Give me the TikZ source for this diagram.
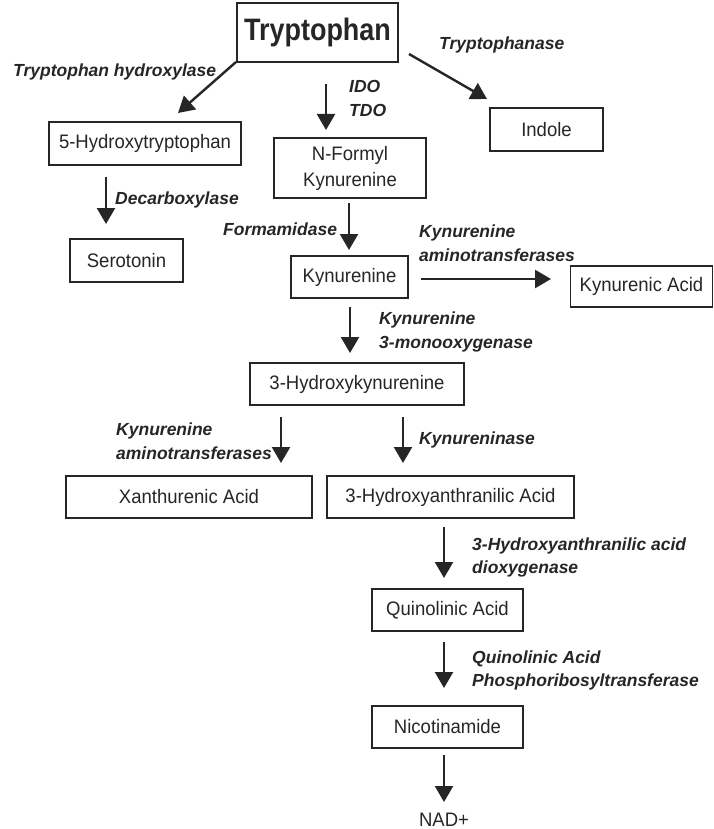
\documentclass[tikz,border=0pt]{standalone}
\usepackage{fontspec}
\setmainfont{Liberation Sans}
\newfontfamily\trpfont[FakeStretch=0.87]{Liberation Sans}
\newfontfamily\boxfont[FakeStretch=0.95]{Liberation Sans}
\usetikzlibrary{arrows.meta}
\begin{document}
\begin{tikzpicture}[x=1pt,y=-1pt,
  box/.style={draw=black!85, line width=1.4pt, fill=white, inner sep=0pt,
    font=\boxfont\fontsize{19.5}{26}\selectfont, text=black!85, align=center},
  enz/.style={font=\fontsize{17.5}{23.5}\selectfont\bfseries\itshape, text=black!85,
    align=left, anchor=west, inner sep=0pt},
  arr/.style={line width=2.4pt, draw=black!85, -{Triangle[length=16pt,width=18pt]}}]
\useasboundingbox[fill=white] (0,0) rectangle (714,829);

% boxes
\node[box, minimum width=161pt, minimum height=59pt, font=\trpfont\fontsize{31}{34}\selectfont\bfseries] (trp) at (317.5,32.5) {Tryptophan};
\node[box, minimum width=192pt, minimum height=43pt] (htp) at (145,143.5) {5-Hydroxytryptophan};
\node[box, minimum width=152pt, minimum height=60pt] (nfk) at (350,168) {N-Formyl\\Kynurenine};
\node[box, minimum width=113pt, minimum height=43pt] (ind) at (546.5,129.5) {Indole};
\node[box, minimum width=113pt, minimum height=43pt] (ser) at (126.5,260.5) {Serotonin};
\node[box, minimum width=117pt, minimum height=42pt] (kyn) at (349.5,277) {Kynurenine};
\node[box, minimum width=142pt, minimum height=41pt] (kya) at (641.5,286.5) {Kynurenic Acid};
\node[box, minimum width=214pt, minimum height=42pt] (hk) at (357,384) {3-Hydroxykynurenine};
\node[box, minimum width=246pt, minimum height=42pt] (xa) at (189,497) {Xanthurenic Acid};
\node[box, minimum width=247pt, minimum height=42pt] (haa) at (450.5,497) {3-Hydroxyanthranilic Acid};
\node[box, minimum width=151pt, minimum height=42pt] (qa) at (447.5,610) {Quinolinic Acid};
\node[box, minimum width=151pt, minimum height=42pt] (nic) at (447.5,727) {Nicotinamide};
\node[font=\boxfont\fontsize{19.5}{24}\selectfont, text=black!85, inner sep=0pt, anchor=base] (nad) at (444,826) {NAD+};

% arrow end points
\coordinate (a1s) at (236,62);  \coordinate (a1e) at (178,113);
\coordinate (a2s) at (326,84);  \coordinate (a2e) at (326,130);
\coordinate (a3s) at (409,54);  \coordinate (a3e) at (487,99);
\coordinate (a4s) at (106,177); \coordinate (a4e) at (106,224);
\coordinate (a5s) at (349,203); \coordinate (a5e) at (349,250);
\coordinate (a6s) at (421,279); \coordinate (a6e) at (551,279);
\coordinate (a7s) at (350,307); \coordinate (a7e) at (350,353);
\coordinate (a8s) at (281,417); \coordinate (a8e) at (281,463);
\coordinate (a9s) at (403,417); \coordinate (a9e) at (403,463);
\coordinate (b1s) at (444,527); \coordinate (b1e) at (444,578);
\coordinate (b2s) at (444,642); \coordinate (b2e) at (444,688);
\coordinate (b3s) at (444,755); \coordinate (b3e) at (444,802);

\foreach \s/\e in {a1s/a1e,a2s/a2e,a3s/a3e,a4s/a4e,a5s/a5e,a6s/a6e,a7s/a7e,a8s/a8e,a9s/a9e,b1s/b1e,b2s/b2e,b3s/b3e}
  \draw[arr] (\s) -- (\e);

% enzyme labels
\node[enz] (l1) at (13,72) {Tryptophan hydroxylase};
\node[enz] (l2) at (439,45) {Tryptophanase};
\node[enz] (l3) at (349,98.5) {IDO\\TDO};
\node[enz] (l4) at (115,200) {Decarboxylase};
\node[enz] (l5) at (223,229) {Formamidase};
\node[enz] (l6) at (419,243) {Kynurenine\\aminotransferases};
\node[enz] (l7) at (379,332) {Kynurenine\\3-monooxygenase};
\node[enz] (l8) at (116,441) {Kynurenine\\aminotransferases};
\node[enz] (l9) at (419,440) {Kynureninase};
\node[enz] (l10) at (472,557.5) {3-Hydroxyanthranilic acid\\dioxygenase};
\node[enz] (l11) at (472,670.5) {Quinolinic Acid\\Phosphoribosyltransferase};
\end{tikzpicture}
\end{document}
